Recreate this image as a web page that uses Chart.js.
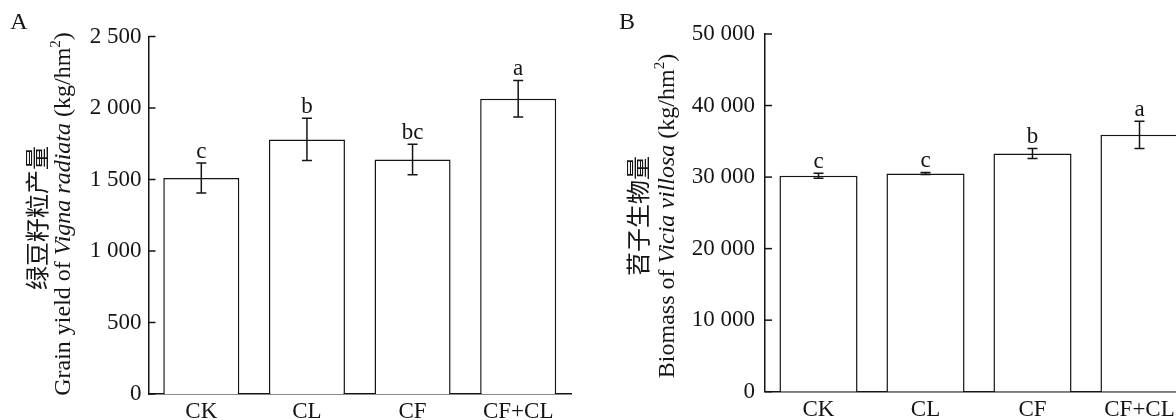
<!DOCTYPE html>
<html>
<head>
<meta charset="utf-8">
<script src="https://cdn.jsdelivr.net/npm/chart.js@4/dist/chart.umd.min.js"></script>
<style>
  html, body { margin: 0; padding: 0; background: #fff; width: 1176px; height: 420px; overflow: hidden; }
  .panel { position: absolute; top: 0; }
</style>
</head>
<body>
<div class="panel" style="left:0"><canvas id="chartA" width="600" height="420"></canvas></div>
<div class="panel" style="left:580px"><canvas id="chartB" width="620" height="420"></canvas></div>
<script>
// treatments
const treatments = ['CK', 'CL', 'CF', 'CF+CL'];

// A: grain yield of Vigna radiata (kg/hm2)
const yieldMean = [1510, 1780, 1640, 2065];
const yieldErr = [105, 148, 107, 128];
const yieldLetters = ['c', 'b', 'bc', 'a'];
const yieldTicks = [0, 500, 1000, 1500, 2000, 2500];

// B: biomass of Vicia villosa (kg/hm2)
const biomassMean = [30200, 30500, 33300, 35900];
const biomassErr = [350, 150, 700, 1900];
const biomassLetters = ['c', 'c', 'b', 'a'];
const biomassTicks = [0, 10000, 20000, 30000, 40000, 50000];

const ink = '#151515';
const serif = '"Liberation Serif", "Times New Roman", serif';
const cjk = '"Noto Sans CJK SC", sans-serif';

Chart.defaults.font.family = serif;
Chart.defaults.color = ink;

function fmt(v) {
  if (v < 1000) return String(v);
  const r = v % 1000;
  return Math.floor(v / 1000) + ' ' + String(r).padStart(3, '0');
}

// error bars and significance letters
const errorBars = {
  id: 'errorBars',
  afterDatasetsDraw(chart, args, opts) {
    const ctx = chart.ctx;
    const y = chart.scales.y;
    const meta = chart.getDatasetMeta(0);
    ctx.save();
    ctx.strokeStyle = ink;
    ctx.lineWidth = 1.5;
    meta.data.forEach((bar, i) => {
      const m = opts.mean[i], e = opts.err[i];
      const top = y.getPixelForValue(m + e);
      const bot = y.getPixelForValue(m - e);
      ctx.beginPath();
      ctx.moveTo(bar.x, top); ctx.lineTo(bar.x, bot);
      ctx.moveTo(bar.x - 5, top); ctx.lineTo(bar.x + 5, top);
      ctx.moveTo(bar.x - 5, bot); ctx.lineTo(bar.x + 5, bot);
      ctx.stroke();
      ctx.fillStyle = ink;
      ctx.font = '23px ' + serif;
      ctx.textAlign = 'center';
      ctx.textBaseline = 'alphabetic';
      ctx.fillText(opts.letters[i], bar.x, top - 5);
    });
    ctx.restore();
  }
};

// inward tick marks on the y axis
const innerTicks = {
  id: 'innerTicks',
  afterDraw(chart) {
    const ctx = chart.ctx;
    const y = chart.scales.y;
    const left = chart.chartArea.left;
    ctx.save();
    ctx.strokeStyle = ink;
    ctx.lineWidth = 1.5;
    y.ticks.forEach(t => {
      const py = y.getPixelForValue(t.value);
      ctx.beginPath();
      ctx.moveTo(left, py); ctx.lineTo(left + 7, py);
      ctx.stroke();
    });
    ctx.restore();
  }
};

// panel letter and two-line rotated y title
const titles = {
  id: 'titles',
  afterDraw(chart, args, opts) {
    const ctx = chart.ctx;
    ctx.save();
    ctx.fillStyle = ink;
    ctx.font = '24px ' + serif;
    ctx.textAlign = 'center';
    ctx.textBaseline = 'middle';
    ctx.fillText(opts.panel, opts.panelX, opts.panelY);

    // Chinese line
    ctx.save();
    ctx.translate(opts.line1X, opts.cnCenterY);
    ctx.rotate(-Math.PI / 2);
    ctx.font = '24px ' + cjk;
    ctx.fillText(opts.cn, 0, 0);
    ctx.restore();

    // English line with italic species and superscript
    ctx.save();
    ctx.translate(opts.line2X, opts.enCenterY);
    ctx.rotate(-Math.PI / 2);
    ctx.textAlign = 'left';
    ctx.textBaseline = 'middle';
    const segs = opts.en;
    const fontOf = s => s.sup ? '15px ' + serif : (s.it ? 'italic 24px ' : '24px ') + serif;
    let total = 0;
    segs.forEach(s => { ctx.font = fontOf(s); total += ctx.measureText(s.t).width; });
    let x = -total / 2;
    segs.forEach(s => {
      ctx.font = fontOf(s);
      ctx.fillText(s.t, x, s.sup ? -8 : 0);
      x += ctx.measureText(s.t).width;
    });
    ctx.restore();
    ctx.restore();
  }
};

function makeChart(id, mean, err, letters, ticks, cfg) {
  return new Chart(document.getElementById(id), {
    type: 'bar',
    data: {
      labels: treatments,
      datasets: [{
        data: mean,
        backgroundColor: '#ffffff',
        borderColor: ink,
        borderWidth: 1.5,
        barPercentage: cfg.barPct,
        categoryPercentage: 1
      }]
    },
    options: {
      responsive: false,
      animation: false,
      layout: { padding: { top: cfg.top, right: cfg.right, bottom: 0, left: 0 } },
      plugins: {
        legend: { display: false },
        tooltip: { enabled: false },
        errorBars: { mean: mean, err: err, letters: letters },
        titles: cfg.titles
      },
      scales: {
        x: {
          afterFit: s => { s.height = cfg.xHeight; },
          grid: { display: false, drawTicks: false },
          border: { display: true, color: ink, width: 1.5 },
          ticks: { padding: 4, font: { size: 23 }, color: ink }
        },
        y: {
          min: ticks[0],
          max: ticks[ticks.length - 1],
          afterFit: s => { s.width = cfg.yWidth; },
          afterBuildTicks: s => { s.ticks = ticks.map(v => ({ value: v })); },
          grid: { display: false, drawTicks: false },
          border: { display: true, color: ink, width: 1.5 },
          ticks: { padding: cfg.tickPad, font: { size: 23 }, color: ink, callback: v => fmt(v) }
        }
      }
    },
    plugins: [errorBars, innerTicks, titles]
  });
}

makeChart('chartA', yieldMean, yieldErr, yieldLetters, yieldTicks, {
  top: 36.5, right: 29, xHeight: 26, yWidth: 148.5, tickPad: 7, barPct: 0.72,
  titles: {
    panel: 'A', panelX: 19, panelY: 23,
    line1X: 37, line2X: 64, cnCenterY: 218, enCenterY: 214,
    cn: '绿豆籽粒产量',
    en: [{ t: 'Grain yield of ' }, { t: 'Vigna radiata', it: true }, { t: ' (kg/hm' }, { t: '2', sup: true }, { t: ')' }]
  }
});

makeChart('chartB', biomassMean, biomassErr, biomassLetters, biomassTicks, {
  top: 34, right: 7, xHeight: 28.3, yWidth: 185, tickPad: 10, barPct: 0.73,
  titles: {
    panel: 'B', panelX: 47, panelY: 23,
    line1X: 58, line2X: 88, cnCenterY: 216, enCenterY: 216,
    cn: '苕子生物量',
    en: [{ t: 'Biomass of ' }, { t: 'Vicia villosa', it: true }, { t: ' (kg/hm' }, { t: '2', sup: true }, { t: ')' }]
  }
});
</script>
</body>
</html>
